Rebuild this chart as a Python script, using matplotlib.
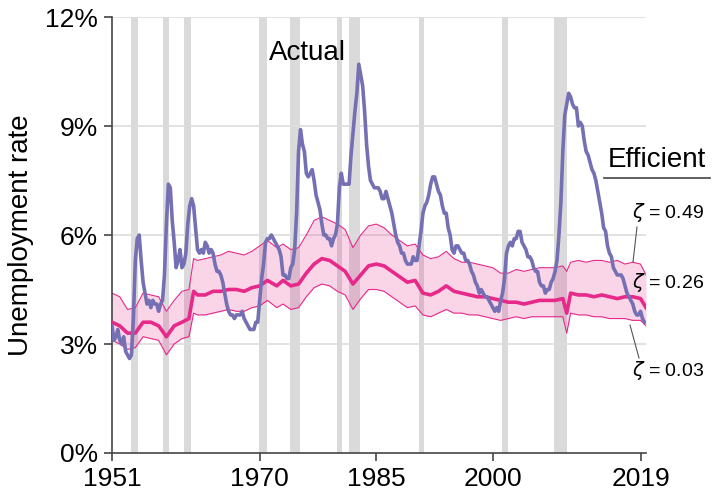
import matplotlib
matplotlib.use("Agg")
import matplotlib.pyplot as plt
from matplotlib.lines import Line2D
import numpy as np

# actual unemployment rate, quarterly, 1951Q1 .. 2019Q3
actual_start = 1951
actual_rate = [
    3.5, 3.1, 3.2, 3.4,   # 1951
    3.1, 3.0, 3.2, 2.8,   # 1952
    2.7, 2.6, 2.7, 3.7,   # 1953
    5.3, 5.9, 6.0, 5.3,   # 1954
    4.7, 4.4, 4.1, 4.2,   # 1955
    4.0, 4.2, 4.1, 4.1,   # 1956
    3.9, 4.1, 4.2, 4.9,   # 1957
    6.3, 7.4, 7.3, 6.4,   # 1958
    5.8, 5.1, 5.3, 5.6,   # 1959
    5.1, 5.2, 5.5, 6.3,   # 1960
    6.8, 7.0, 6.8, 6.2,   # 1961
    5.6, 5.5, 5.6, 5.5,   # 1962
    5.8, 5.7, 5.5, 5.6,   # 1963
    5.5, 5.2, 5.0, 5.0,   # 1964
    4.9, 4.7, 4.4, 4.1,   # 1965
    3.9, 3.8, 3.8, 3.7,   # 1966
    3.8, 3.8, 3.8, 3.9,   # 1967
    3.7, 3.6, 3.5, 3.4,   # 1968
    3.4, 3.4, 3.6, 3.6,   # 1969
    4.2, 4.8, 5.2, 5.8,   # 1970
    5.9, 5.9, 6.0, 5.9,   # 1971
    5.8, 5.7, 5.6, 5.4,   # 1972
    4.9, 4.9, 4.8, 4.8,   # 1973
    5.1, 5.2, 5.6, 6.6,   # 1974
    8.3, 8.9, 8.5, 8.3,   # 1975
    7.7, 7.6, 7.7, 7.8,   # 1976
    7.5, 7.1, 6.9, 6.7,   # 1977
    6.3, 6.0, 6.0, 5.9,   # 1978
    5.9, 5.7, 5.9, 6.0,   # 1979
    6.3, 7.3, 7.7, 7.4,   # 1980
    7.4, 7.4, 7.4, 8.2,   # 1981
    8.8, 9.4, 9.9, 10.7,  # 1982
    10.4, 10.1, 9.4, 8.5,  # 1983
    7.9, 7.5, 7.4, 7.3,   # 1984
    7.3, 7.3, 7.2, 7.0,   # 1985
    7.0, 7.2, 7.0, 6.8,   # 1986
    6.6, 6.3, 6.0, 5.8,   # 1987
    5.7, 5.5, 5.5, 5.3,   # 1988
    5.2, 5.2, 5.2, 5.4,   # 1989
    5.3, 5.3, 5.7, 6.1,   # 1990
    6.6, 6.8, 6.9, 7.1,   # 1991
    7.4, 7.6, 7.6, 7.4,   # 1992
    7.2, 7.1, 6.8, 6.6,   # 1993
    6.6, 6.2, 6.0, 5.6,   # 1994
    5.5, 5.7, 5.7, 5.6,   # 1995
    5.5, 5.5, 5.3, 5.3,   # 1996
    5.2, 5.0, 4.9, 4.7,   # 1997
    4.6, 4.4, 4.5, 4.4,   # 1998
    4.3, 4.3, 4.2, 4.1,   # 1999
    4.0, 3.9, 4.0, 3.9,   # 2000
    4.2, 4.4, 4.8, 5.5,   # 2001
    5.7, 5.8, 5.7, 5.9,   # 2002
    5.9, 6.1, 6.1, 5.8,   # 2003
    5.7, 5.6, 5.4, 5.4,   # 2004
    5.3, 5.1, 5.0, 5.0,   # 2005
    4.7, 4.6, 4.6, 4.4,   # 2006
    4.5, 4.5, 4.7, 4.8,   # 2007
    5.0, 5.3, 6.0, 6.9,   # 2008
    8.3, 9.3, 9.6, 9.9,   # 2009
    9.8, 9.6, 9.5, 9.5,   # 2010
    9.0, 9.1, 9.0, 8.6,   # 2011
    8.3, 8.2, 8.0, 7.8,   # 2012
    7.7, 7.5, 7.2, 6.9,   # 2013
    6.6, 6.2, 6.1, 5.7,   # 2014
    5.5, 5.4, 5.1, 5.0,   # 2015
    4.9, 4.9, 4.9, 4.8,   # 2016
    4.6, 4.4, 4.3, 4.2,   # 2017
    4.1, 3.9, 3.8, 3.8,   # 2018
    3.9, 3.7, 3.6,        # 2019
]

# efficient unemployment rate for three values of zeta
band_years = [
    1951, 1952, 1953, 1954, 1955, 1956, 1957, 1958, 1959, 1960, 1960.9,
    1961.5, 1962, 1963, 1964, 1965, 1966, 1967, 1968, 1969, 1970, 1971,
    1972.2, 1973, 1974, 1975, 1976, 1977, 1978, 1979, 1980, 1981, 1982,
    1983, 1984, 1985, 1986, 1987, 1988, 1989, 1990, 1991, 1992, 1993,
    1994, 1995, 1996, 1997, 1998, 1999, 2000, 2001, 2002, 2003, 2004,
    2005, 2006, 2007, 2008, 2009, 2009.5, 2010, 2011, 2012, 2013, 2014,
    2015, 2016, 2017, 2018, 2019, 2019.7,
]
eff_026 = [
    3.6, 3.5, 3.3, 3.3, 3.6, 3.6, 3.5, 3.2, 3.5, 3.6, 3.7,
    4.45, 4.35, 4.35, 4.45, 4.45, 4.5, 4.5, 4.45, 4.55, 4.6, 4.75,
    4.6, 4.75, 4.6, 4.65, 4.95, 5.2, 5.35, 5.3, 5.15, 5.0, 4.65,
    4.9, 5.15, 5.2, 5.15, 5.0, 4.85, 4.7, 4.75, 4.4, 4.35, 4.45,
    4.6, 4.45, 4.4, 4.35, 4.3, 4.3, 4.25, 4.2, 4.15, 4.15, 4.1,
    4.15, 4.2, 4.2, 4.2, 4.25, 3.85, 4.4, 4.35, 4.35, 4.3, 4.35,
    4.3, 4.25, 4.3, 4.3, 4.25, 4.0,
]
eff_049 = [
    4.4, 4.3, 3.95, 4.0, 4.4, 4.35, 4.3, 3.9, 4.2, 4.45, 4.5,
    5.35, 5.3, 5.35, 5.4, 5.45, 5.55, 5.5, 5.45, 5.55, 5.7, 5.85,
    5.65, 5.75, 5.6, 5.65, 6.0, 6.4, 6.5, 6.4, 6.3, 6.15, 5.65,
    6.0, 6.25, 6.3, 6.2, 6.0, 5.85, 5.7, 5.75, 5.45, 5.35, 5.4,
    5.55, 5.35, 5.25, 5.25, 5.2, 5.15, 5.1, 4.95, 4.95, 5.05, 5.0,
    5.05, 5.1, 5.1, 5.1, 5.15, 5.0, 5.25, 5.3, 5.25, 5.3, 5.3,
    5.25, 5.3, 5.2, 5.25, 5.2, 4.9,
]
eff_003 = [
    3.1, 3.0, 2.85, 2.9, 3.2, 3.15, 3.1, 2.7, 3.0, 3.15, 3.2,
    3.85, 3.8, 3.8, 3.85, 3.9, 3.95, 3.9, 3.9, 4.0, 4.05, 4.2,
    4.0, 4.1, 3.95, 4.0, 4.3, 4.55, 4.65, 4.6, 4.45, 4.35, 3.95,
    4.25, 4.5, 4.5, 4.45, 4.3, 4.15, 4.0, 4.05, 3.8, 3.75, 3.85,
    3.95, 3.85, 3.85, 3.8, 3.8, 3.75, 3.7, 3.65, 3.7, 3.75, 3.7,
    3.75, 3.75, 3.75, 3.75, 3.75, 3.3, 3.85, 3.8, 3.8, 3.75, 3.75,
    3.7, 3.7, 3.7, 3.65, 3.65, 3.5,
]

# NBER recessions (start, end)
recession_start = [1953.5, 1957.6, 1960.3, 1969.95, 1973.85, 1980.0, 1981.5, 1990.5, 2001.2, 2007.9]
recession_end = [1954.4, 1958.3, 1961.1, 1970.9, 1975.2, 1980.55, 1982.9, 1991.2, 2001.9, 2009.5]

x_ticks = [1951, 1970, 1985, 2000, 2019]
y_ticks = [0, 3, 6, 9, 12]

PURPLE = "#7570b3"
PINK = "#e7298a"

plt.rcParams["font.family"] = ["Liberation Sans", "DejaVu Sans"]
plt.rcParams["mathtext.fontset"] = "dejavusans"

W, H = 713, 495
fig = plt.figure(figsize=(W / 100, H / 100), dpi=100)
ax = fig.add_axes([112 / W, 1 - 453 / H, (646 - 112) / W, (453 - 17) / H])

for s, e in zip(recession_start, recession_end):
    ax.axvspan(s, e, color="#dadada", lw=0, zorder=0)

for yv in y_ticks[1:]:
    ax.axhline(yv, color="#dddddd", lw=1.2, zorder=0.5)

ax.fill_between(band_years, eff_003, eff_049, color=PINK, alpha=0.2, lw=0, zorder=1)
ax.plot(band_years, eff_049, color=PINK, lw=0.8, zorder=2)
ax.plot(band_years, eff_003, color=PINK, lw=0.8, zorder=2)
ax.plot(band_years, eff_026, color=PINK, lw=2.6, zorder=3)

t = actual_start + np.arange(len(actual_rate)) / 4.0
ax.plot(t, actual_rate, color=PURPLE, lw=2.6, zorder=4, solid_joinstyle="round")

ax.set_xlim(1951, 2019.7)
ax.set_ylim(0, 12)
ax.set_xticks(x_ticks)
ax.set_yticks(y_ticks)
ax.set_yticklabels([f"{v}%" for v in y_ticks])
ax.tick_params(axis="both", labelsize=19, direction="out", length=6,
               color="#444444", width=1.2, pad=4)
for side in ["top", "right"]:
    ax.spines[side].set_visible(False)
for side in ["left", "bottom"]:
    ax.spines[side].set_color("#444444")
    ax.spines[side].set_linewidth(1.2)
ax.set_ylabel("Unemployment rate", fontsize=20, labelpad=8)

ax.text(1971.2, 11.0, "Actual", fontsize=20, ha="left", va="center")

# right-hand labels (figure pixel coords)
def fx(px):
    return px / W

def fy(py):
    return 1 - py / H

fig.text(fx(608), fy(160), "Efficient", fontsize=20, ha="left", va="center")
fig.add_artist(Line2D([fx(604), fx(710)], [fy(178), fy(178)], color="#444444", lw=1.2))
fig.text(fx(632), fy(213), r"$\zeta$ = 0.49", fontsize=14, ha="left", va="center")
fig.text(fx(632), fy(283), r"$\zeta$ = 0.26", fontsize=14, ha="left", va="center")
fig.text(fx(632), fy(370), r"$\zeta$ = 0.03", fontsize=14, ha="left", va="center")
fig.add_artist(Line2D([fx(637), fx(633)], [fy(227), fy(262)], color="#555555", lw=0.8))
fig.add_artist(Line2D([fx(630), fx(639)], [fy(325), fy(358)], color="#555555", lw=0.8))

fig.savefig("out.png", dpi=100)
